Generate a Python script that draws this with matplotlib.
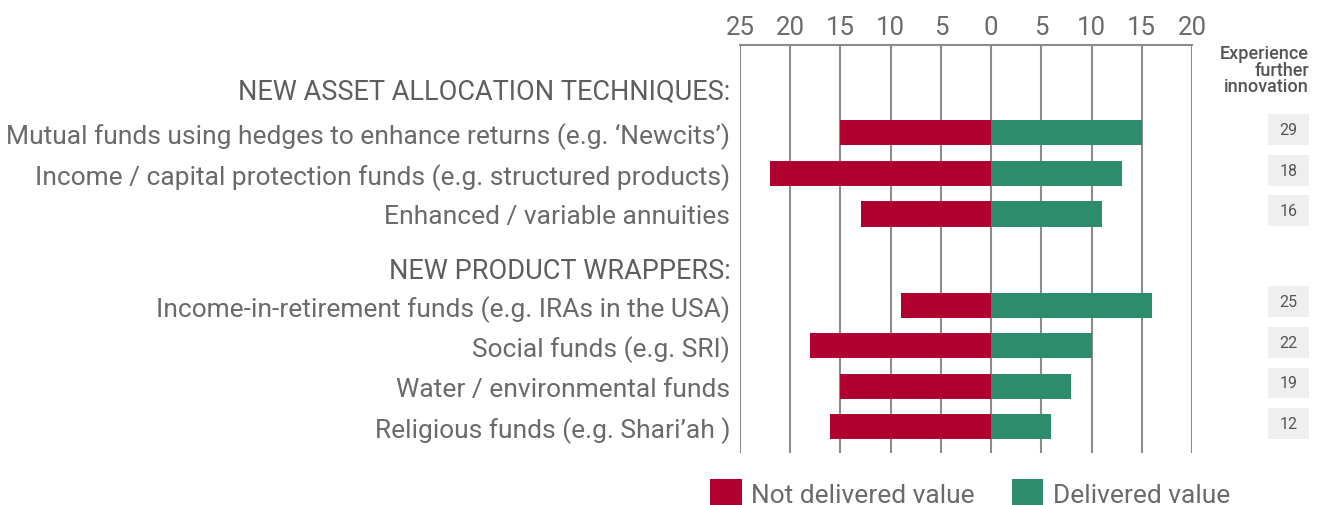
import numpy as np
import matplotlib.pyplot as plt
from matplotlib.patches import Patch, Rectangle
from matplotlib.transforms import blended_transform_factory

# data
group_titles = ["NEW ASSET ALLOCATION TECHNIQUES:", "NEW PRODUCT WRAPPERS:"]
group_sizes = [3, 4]
items = [
    "Mutual funds using hedges to enhance returns (e.g. \u2018Newcits\u2019)",
    "Income / capital protection funds (e.g. structured products)",
    "Enhanced / variable annuities",
    "Income-in-retirement funds (e.g. IRAs in the USA)",
    "Social funds (e.g. SRI)",
    "Water / environmental funds",
    "Religious funds (e.g. Shari\u2019ah )",
]
not_delivered = [15, 22, 13, 9, 18, 15, 16]
delivered = [15, 13, 11, 16, 10, 8, 6]
further_innovation = [29, 18, 16, 25, 22, 19, 12]
xticks = [-25, -20, -15, -10, -5, 0, 5, 10, 15, 20]

RED = "#b0002f"
GREEN = "#2c8c6c"
TXT = "#6a6a6a"
GRID = "#8c8c8c"

plt.rcParams['font.family'] = ['Roboto', 'DejaVu Sans']

# row positions: rows one unit apart, an extra gap between groups,
# group header sitting above the first row of its group
row_y, head_y = [], []
pos = 0.0
for gi, n in enumerate(group_sizes):
    if gi > 0:
        pos += 1.25
    head_y.append(pos - (1.1 if gi == 0 else 0.92))
    row_y.extend(pos + np.arange(n))
    pos += n
row_y = np.array(row_y)

fig = plt.figure(figsize=(13.2, 5.06), dpi=100)
ax = fig.add_axes([740 / 1320, 1 - 454 / 506, 452 / 1320, 408 / 506])

bh = 0.62
ax.barh(row_y, [-v for v in not_delivered], height=bh, color=RED, zorder=3)
ax.barh(row_y, delivered, height=bh, color=GREEN, zorder=3)

ax.set_xlim(-25, 20)
ax.set_ylim(7.9, -2.17)
ax.set_xticks(xticks)
ax.set_xticklabels([str(abs(t)) for t in xticks])
ax.xaxis.tick_top()
ax.tick_params(axis='x', length=0, pad=4, labelsize=18.5, labelcolor=TXT)
for t in xticks:
    ax.axvline(t, color=GRID, lw=1.5, zorder=1)
for s in ['left', 'right', 'bottom']:
    ax.spines[s].set_visible(False)
ax.spines['top'].set_color(GRID)
ax.spines['top'].set_linewidth(1.5)

ax.set_yticks(list(row_y) + head_y)
ax.set_yticklabels(items + group_titles)
ax.tick_params(axis='y', length=0, pad=7, labelsize=19, labelcolor=TXT)
for lab in ax.get_yticklabels()[len(items):]:
    lab.set_color("#5e5e5e")
    lab.set_fontsize(19.5)

# right column: "Experience further innovation"
fig.text(1309 / 1320, 1 - 45 / 506, "Experience\nfurther\ninnovation", ha='right', va='top',
         fontsize=13, fontweight='medium', color="#555555", linespacing=0.9)
tr = blended_transform_factory(fig.transFigure, ax.transData)
for y, v in zip(row_y, further_innovation):
    ax.add_patch(Rectangle((1268 / 1320, y - 0.08 - 0.38), 41 / 1320, 0.76, transform=tr,
                           facecolor="#efefef", edgecolor='none', clip_on=False))
    ax.text(1288.5 / 1320, y - 0.08, str(v), transform=tr, ha='center', va='center',
            fontsize=11.5, color="#555555")

handles = [Patch(facecolor=RED, label="Not delivered value"),
           Patch(facecolor=GREEN, label="Delivered value")]
fig.legend(handles=handles, loc='center', bbox_to_anchor=(970 / 1320, 1 - 494 / 506), ncol=2,
           frameon=False, fontsize=19, labelcolor=TXT, handlelength=1.2, handleheight=1.2,
           handletextpad=0.35, columnspacing=1.4, borderaxespad=0)

fig.savefig("out.png", dpi=100)
plt.close(fig)
